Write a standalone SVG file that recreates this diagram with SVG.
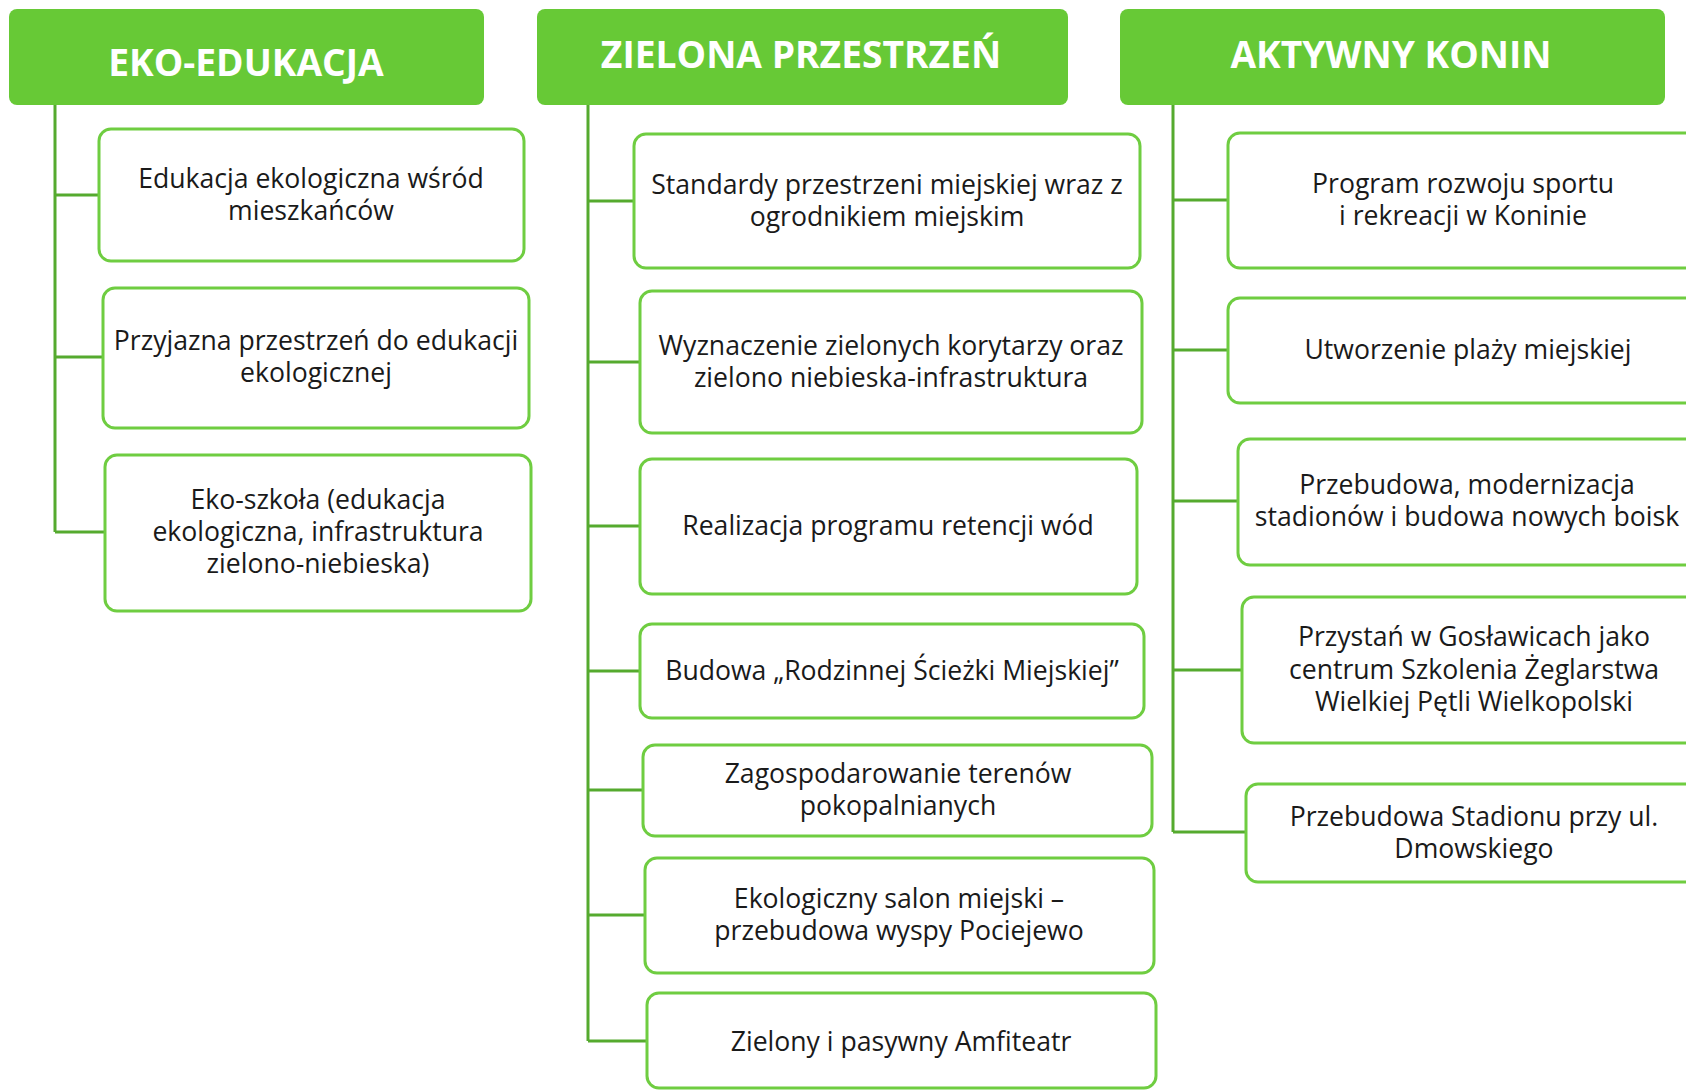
<svg xmlns="http://www.w3.org/2000/svg" width="1686" height="1090" viewBox="0 0 1686 1090">
<style>
.hd{fill:#67c936}
.ht{font-family:"Open Sans","Liberation Sans",sans-serif;font-weight:700;font-size:37.2px;fill:#ffffff;text-anchor:middle}
.bx{fill:#ffffff;stroke:#6fcd41;stroke-width:3}
.t{font-family:"Open Sans","Liberation Sans",sans-serif;font-size:26.6px;fill:#1a1a1a;text-anchor:middle}
.c{fill:none;stroke:#55aa2e;stroke-width:3}
</style>
<rect width="1686" height="1090" fill="#ffffff"/>
<g id="connectors">
<path class="c" d="M55 105V532M55 195H99M55 357H103M55 532H105"/>
<path class="c" d="M588 105V1041M588 201H634M588 362H640M588 526H640M588 671H640M588 790H643M588 915H645M588 1041H647"/>
<path class="c" d="M1173 105V832M1173 200H1228M1173 350H1228M1173 501H1238M1173 670H1242M1173 832H1246"/>
</g>
<g id="h1"><rect class="hd" x="9" y="9" width="475" height="96" rx="8"/><text class="ht" x="246" y="76">EKO-EDUKACJA</text></g>
<g id="h2"><rect class="hd" x="537" y="9" width="531" height="96" rx="8"/><text class="ht" x="801" y="68">ZIELONA PRZESTRZEŃ</text></g>
<g id="h3"><rect class="hd" x="1120" y="9" width="545" height="96" rx="8"/><text class="ht" x="1391" y="68">AKTYWNY KONIN</text></g>

<g id="e1"><rect class="bx" x="99" y="129" width="425" height="132" rx="12"/><text class="t" x="311" y="188">Edukacja ekologiczna wśród</text><text class="t" x="311" y="220">mieszkańców</text></g>
<g id="e2"><rect class="bx" x="103" y="288" width="426" height="140" rx="12"/><text class="t" x="316" y="350">Przyjazna przestrzeń do edukacji</text><text class="t" x="316" y="382">ekologicznej</text></g>
<g id="e3"><rect class="bx" x="105" y="455" width="426" height="156" rx="12"/><text class="t" x="318" y="509">Eko-szkoła (edukacja</text><text class="t" x="318" y="541">ekologiczna, infrastruktura</text><text class="t" x="318" y="573">zielono-niebieska)</text></g>

<g id="z1"><rect class="bx" x="634" y="134" width="506" height="134" rx="12"/><text class="t" x="887" y="194">Standardy przestrzeni miejskiej wraz z</text><text class="t" x="887" y="226">ogrodnikiem miejskim</text></g>
<g id="z2"><rect class="bx" x="640" y="291" width="502" height="142" rx="12"/><text class="t" x="891" y="355">Wyznaczenie zielonych korytarzy oraz</text><text class="t" x="891" y="387">zielono niebieska-infrastruktura</text></g>
<g id="z3"><rect class="bx" x="640" y="459" width="497" height="135" rx="12"/><text class="t" x="888" y="535">Realizacja programu retencji wód</text></g>
<g id="z4"><rect class="bx" x="640" y="624" width="504" height="94" rx="12"/><text class="t" x="892" y="680">Budowa „Rodzinnej Ścieżki Miejskiej”</text></g>
<g id="z5"><rect class="bx" x="643" y="745" width="509" height="91" rx="12"/><text class="t" x="898" y="783">Zagospodarowanie terenów</text><text class="t" x="898" y="815">pokopalnianych</text></g>
<g id="z6"><rect class="bx" x="645" y="858" width="509" height="115" rx="12"/><text class="t" x="899" y="908">Ekologiczny salon miejski –</text><text class="t" x="899" y="940">przebudowa wyspy Pociejewo</text></g>
<g id="z7"><rect class="bx" x="647" y="993" width="509" height="95" rx="12"/><text class="t" x="901" y="1051">Zielony i pasywny Amfiteatr</text></g>

<g id="a1"><rect class="bx" x="1228" y="133" width="480" height="135" rx="12"/><text class="t" x="1463" y="193">Program rozwoju sportu</text><text class="t" x="1463" y="225">i rekreacji w Koninie</text></g>
<g id="a2"><rect class="bx" x="1228" y="298" width="480" height="105" rx="12"/><text class="t" x="1468" y="359">Utworzenie plaży miejskiej</text></g>
<g id="a3"><rect class="bx" x="1238" y="439" width="470" height="126" rx="12"/><text class="t" x="1467" y="494">Przebudowa, modernizacja</text><text class="t" x="1467" y="526">stadionów i budowa nowych boisk</text></g>
<g id="a4"><rect class="bx" x="1242" y="597" width="466" height="146" rx="12"/><text class="t" x="1474" y="646">Przystań w Gosławicach jako</text><text class="t" x="1474" y="679">centrum Szkolenia Żeglarstwa</text><text class="t" x="1474" y="711">Wielkiej Pętli Wielkopolski</text></g>
<g id="a5"><rect class="bx" x="1246" y="784" width="462" height="98" rx="12"/><text class="t" x="1474" y="826">Przebudowa Stadionu przy ul.</text><text class="t" x="1474" y="858">Dmowskiego</text></g>
</svg>
